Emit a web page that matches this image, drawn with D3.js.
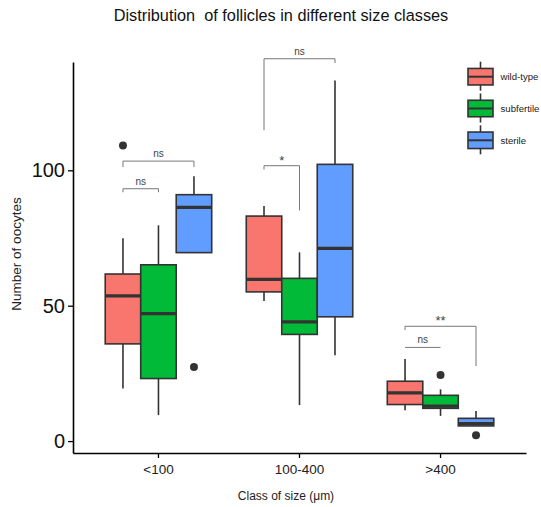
<!DOCTYPE html>
<html>
<head>
<meta charset="utf-8">
<script src="https://cdn.jsdelivr.net/npm/d3@7/dist/d3.min.js"></script>
<style>
  html, body { margin: 0; padding: 0; background: #fff; }
  svg { display: block; font-family: "Liberation Sans", Arial, sans-serif; }
</style>
</head>
<body>
<svg id="chart" width="541" height="507"></svg>
<script>
// ---------- data ----------
const categories = ["<100", "100-400", ">400"];
const groups = ["wild-type", "subfertile", "sterile"];
const colors = ["#F8766D", "#00BA38", "#619CFF"];

// [lower whisker, Q1, median, Q3, upper whisker] per category
const wildType   = [[19.4, 35.9, 53.6, 61.7, 74.9], [51.7, 55.1, 59.7, 83.1, 86.8], [11.4, 13.5, 17.8, 22.1, 30.3]];
const subfertile = [[9.6, 23.1, 47.1, 65.1, 79.7],  [13.3, 39.4, 44.0, 60.1, 69.7], [9.3, 12.1, 12.9, 16.9, 19.1]];
const sterile    = [[69.6, 69.6, 86.3, 91.0, 97.8], [31.7, 45.9, 71.2, 102.2, 133.2], [5.6, 5.6, 6.5, 8.4, 11.1]];
const seriesStats = [wildType, subfertile, sterile];

// outliers: [category, group, value]
const outliers = [["<100", "wild-type", 109.2], ["<100", "sterile", 27.4], [">400", "subfertile", 24.4], [">400", "sterile", 2.2]];

// significance brackets: category, from group, to group, bar value, left leg end, right leg end, label
const brackets = [
  ["<100", "wild-type", "sterile", 103.4, 101.2, 101.2, "ns"],
  ["<100", "wild-type", "subfertile", 93.2, 91.9, 91.9, "ns"],
  ["100-400", "wild-type", "sterile", 141.2, 114.8, 139.6, "ns"],
  ["100-400", "wild-type", "subfertile", 101.7, 100.3, 85.2, "*"],
  [">400", "wild-type", "sterile", 42.4, 41.0, 27.7, "**"],
  [">400", "wild-type", "subfertile", 34.6, 34.6, 34.6, "ns"]
];

const yTicks = [0, 50, 100];
const title = "Distribution  of follicles in different size classes";
const xTitle = "Class of size (\u03bcm)";
const yTitle = "Number of oocytes";

// ---------- chart ----------
const svg = d3.select("#chart");
const mLeft = 73, mRight = 526, mTop = 62, mBottom = 453;

const x0 = d3.scaleBand().domain(categories).range([mLeft, mRight]).paddingInner(0).paddingOuter(0.106);
const bw = x0.bandwidth();
const dodge = bw * 0.755;
const x1 = d3.scaleBand().domain(groups).range([(bw - dodge) / 2, (bw + dodge) / 2]).padding(0);
const y = d3.scaleLinear().domain([-4.4, 140]).range([mBottom, mTop]);
const color = d3.scaleOrdinal().domain(groups).range(colors);

const cx = (cat, g) => x0(cat) + x1(g) + x1.bandwidth() / 2;

// title
svg.append("text")
  .attr("x", 281).attr("y", 21)
  .attr("text-anchor", "middle")
  .style("white-space", "pre")
  .attr("font-size", 16.3)
  .attr("fill", "#111")
  .text(title);

// boxes
const boxData = [];
groups.forEach((g, gi) => categories.forEach((c, ci) => {
  const s = seriesStats[gi][ci];
  boxData.push({ cat: c, g, lo: s[0], q1: s[1], med: s[2], q3: s[3], hi: s[4] });
}));

const boxG = svg.append("g");
const bwid = x1.bandwidth();
boxData.forEach(d => {
  const c = cx(d.cat, d.g);
  boxG.append("line").attr("x1", c).attr("x2", c).attr("y1", y(d.hi)).attr("y2", y(d.q3))
    .attr("stroke", "#333").attr("stroke-width", 1.6);
  boxG.append("line").attr("x1", c).attr("x2", c).attr("y1", y(d.q1)).attr("y2", y(d.lo))
    .attr("stroke", "#333").attr("stroke-width", 1.6);
  boxG.append("rect")
    .attr("x", x0(d.cat) + x1(d.g)).attr("width", bwid)
    .attr("y", y(d.q3)).attr("height", y(d.q1) - y(d.q3))
    .attr("fill", color(d.g)).attr("stroke", "#333").attr("stroke-width", 1.6);
  boxG.append("line")
    .attr("x1", x0(d.cat) + x1(d.g)).attr("x2", x0(d.cat) + x1(d.g) + bwid)
    .attr("y1", y(d.med)).attr("y2", y(d.med))
    .attr("stroke", "#333").attr("stroke-width", 3.2);
});

// outliers
svg.append("g").selectAll("circle").data(outliers).join("circle")
  .attr("cx", d => cx(d[0], d[1])).attr("cy", d => y(d[2]))
  .attr("r", 4).attr("fill", "#333");

// brackets
const bG = svg.append("g");
brackets.forEach(b => {
  const xa = cx(b[0], b[1]), xb = cx(b[0], b[2]);
  const path = d3.path();
  path.moveTo(xa, y(b[4])); path.lineTo(xa, y(b[3])); path.lineTo(xb, y(b[3])); path.lineTo(xb, y(b[5]));
  bG.append("path").attr("d", path.toString()).attr("fill", "none")
    .attr("stroke", "#777").attr("stroke-width", 1);
  const star = b[6].indexOf("*") >= 0;
  bG.append("text").attr("x", (xa + xb) / 2).attr("y", y(b[3]) - (star ? 1 : 4))
    .attr("text-anchor", "middle").attr("font-size", star ? 13 : 10).attr("fill", "#444")
    .text(b[6]);
});

// axes
const yAxis = d3.axisLeft(y).tickValues(yTicks).tickSize(5).tickSizeOuter(0).tickPadding(3);
const yg = svg.append("g").attr("transform", `translate(${mLeft},0)`).call(yAxis);
yg.select(".domain").attr("stroke", "#000").attr("stroke-width", 1.6);
yg.selectAll(".tick line").attr("stroke", "#000").attr("stroke-width", 1.3);
yg.selectAll(".tick text").attr("font-size", 20).attr("fill", "#111").attr("font-family", "Liberation Sans, Arial, sans-serif");

const xAxis = d3.axisBottom(x0).tickSize(5).tickSizeOuter(0).tickPadding(6);
const xg = svg.append("g").attr("transform", `translate(0,${mBottom})`).call(xAxis);
xg.select(".domain").attr("stroke", "#000").attr("stroke-width", 1.6);
xg.selectAll(".tick line").attr("stroke", "#000").attr("stroke-width", 1.3);
xg.selectAll(".tick text").attr("font-size", 13.5).attr("fill", "#222").attr("font-family", "Liberation Sans, Arial, sans-serif");

// axis titles
svg.append("text").attr("x", 286).attr("y", 500)
  .attr("text-anchor", "middle").attr("font-size", 12).attr("fill", "#222").text(xTitle);
svg.append("text").attr("transform", "translate(21,254) rotate(-90)")
  .attr("text-anchor", "middle").attr("font-size", 13.5).attr("fill", "#222").text(yTitle);

// legend
const lg = svg.append("g");
groups.forEach((g, i) => {
  const yc = 76.7 + i * 31.8;
  const kx = 468, kw = 25, kh = 16.5;
  lg.append("line").attr("x1", kx + kw / 2).attr("x2", kx + kw / 2).attr("y1", yc - 15).attr("y2", yc + 14)
    .attr("stroke", "#333").attr("stroke-width", 1.6);
  lg.append("rect").attr("x", kx).attr("y", yc - kh / 2).attr("width", kw).attr("height", kh)
    .attr("fill", color(g)).attr("stroke", "#333").attr("stroke-width", 1.6);
  lg.append("line").attr("x1", kx).attr("x2", kx + kw).attr("y1", yc).attr("y2", yc)
    .attr("stroke", "#333").attr("stroke-width", 2);
  lg.append("text").attr("x", 500.5).attr("y", yc + 3.5).attr("font-size", 9.6).attr("fill", "#222").text(g);
});
</script>
</body>
</html>
